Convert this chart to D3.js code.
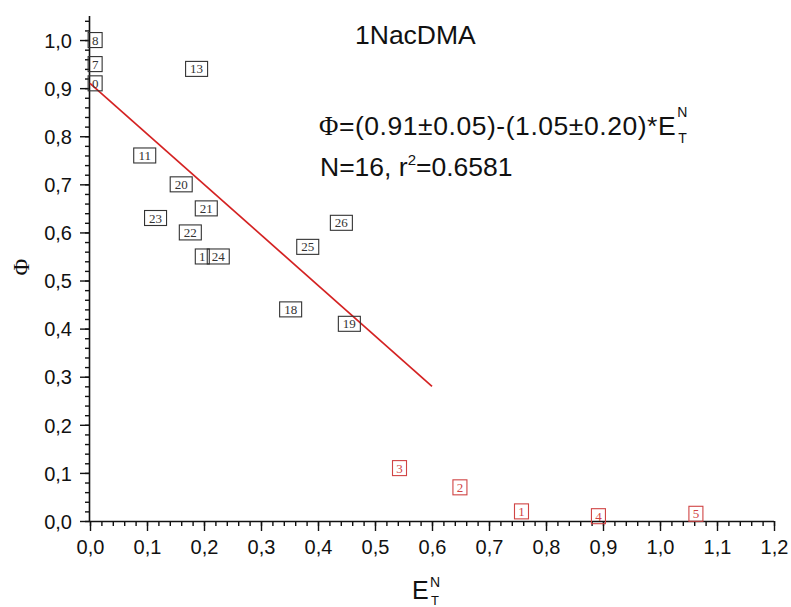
<!DOCTYPE html>
<html>
<head>
    <title>1NacDMA</title>
    <script src="https://d3js.org/d3.v7.min.js"></script>
    <style>
        body { margin: 0; background: #fff; }
        .tick text { font-family: "Liberation Sans", Arial, sans-serif; font-size: 20px; fill: #111; }
        .lbl { font-family: "Liberation Serif", "Times New Roman", serif; font-size: 13px; }
        .note { font-family: "Liberation Sans", Arial, sans-serif; fill: #111; }
    </style>
</head>
<body>
<div id="viz"></div>
<script>
// solvent points: label, E_T^N, quantum yield
const blackLabels = ['8', '7', '0', '13', '11', '20', '21', '23', '22', '1', '24', '25', '26', '18', '19'];
const blackX = [0.009, 0.009, 0.009, 0.187, 0.096, 0.160, 0.204, 0.115, 0.176, 0.197, 0.225, 0.382, 0.441, 0.352, 0.455];
const blackY = [1.00, 0.95, 0.91, 0.94, 0.76, 0.70, 0.65, 0.63, 0.60, 0.55, 0.55, 0.57, 0.62, 0.44, 0.41];

const redLabels = ['3', '2', '1', '4', '5'];
const redX = [0.543, 0.649, 0.757, 0.892, 1.063];
const redY = [0.11, 0.07, 0.02, 0.01, 0.015];

// linear fit
const fitA = 0.91, fitB = -1.05;
const fitRange = [0, 0.6];

const xTicks = d3.range(0, 1.21, 0.1);
const yTicks = d3.range(0, 1.01, 0.1);

const width = 791, height = 607;
const svg = d3.select('#viz').append('svg')
    .attr('width', width)
    .attr('height', height);

const x = d3.scaleLinear().domain([0, 1.2]).range([90, 774]);
const y = d3.scaleLinear().domain([0, 1.05]).range([521, 16]);

const fmt = d => d3.format('.1f')(d).replace('.', ',');

// minor ticks
const xMinor = d3.range(0, 1.201, 0.02);
const yMinor = d3.range(0, 1.041, 0.02);

svg.append('g').attr('transform', 'translate(0,521)')
    .call(d3.axisBottom(x).tickValues(xMinor).tickSize(5).tickFormat(''))
    .call(g => g.select('.domain').remove());
svg.append('g').attr('transform', 'translate(90,0)')
    .call(d3.axisLeft(y).tickValues(yMinor).tickSize(5).tickFormat(''))
    .call(g => g.select('.domain').remove());

const xAxis = svg.append('g').attr('transform', 'translate(0,521)')
    .call(d3.axisBottom(x).tickValues(xTicks).tickSize(10).tickPadding(9).tickFormat(fmt));
xAxis.select('.domain').attr('d', 'M90,0.5H774');

const yAxis = svg.append('g').attr('transform', 'translate(90,0)')
    .call(d3.axisLeft(y).tickValues(yTicks).tickSize(10).tickPadding(8).tickFormat(fmt));
yAxis.select('.domain').attr('d', 'M-0.5,521V16');
svg.selectAll('.domain').attr('stroke', '#111').attr('stroke-width', 1.6);
svg.selectAll('.tick line').attr('stroke', '#111').attr('stroke-width', 1.4);
yAxis.selectAll('.tick text').attr('dy', '0.36em');

// fit line
svg.append('line')
    .attr('x1', x(fitRange[0])).attr('y1', y(fitA + fitB * fitRange[0]))
    .attr('x2', x(fitRange[1])).attr('y2', y(fitA + fitB * fitRange[1]))
    .attr('stroke', '#d42222')
    .attr('stroke-width', 1.7);

function drawPoints(labels, xs, ys, color) {
    const g = svg.append('g');
    labels.forEach((t, i) => {
        const w = t.length > 1 ? 22 : 14;
        const cx = x(xs[i]), cy = y(ys[i]);
        g.append('rect')
            .attr('x', cx - w / 2).attr('y', cy - 7.5)
            .attr('width', w).attr('height', 15)
            .attr('fill', 'none')
            .attr('stroke', color)
            .attr('stroke-width', 1.1);
        g.append('text')
            .attr('class', 'lbl')
            .attr('x', cx).attr('y', cy + 4.5)
            .attr('text-anchor', 'middle')
            .attr('fill', color)
            .text(t);
    });
}
drawPoints(blackLabels, blackX, blackY, '#333');
drawPoints(redLabels, redX, redY, '#d04444');

// texts
const note = (px, py, size, txt) => svg.append('text').attr('class', 'note')
    .attr('x', px).attr('y', py).style('font-size', size + 'px').text(txt);

note(355, 44, 26.5, '1NacDMA');

const eq = svg.append('text').attr('class', 'note').attr('x', 319).attr('y', 135)
    .style('font-size', '26.5px').style('letter-spacing', '0.55px');
eq.append('tspan').attr('font-family', '"Liberation Serif", serif').text('Φ');
eq.append('tspan').text('=(0.91±0.05)-(1.05±0.20)*E');
const eqEnd = eq.node().getComputedTextLength();
note(319 + eqEnd + 1, 117, 14, 'N');
note(319 + eqEnd + 2, 143, 14, 'T');

const st = svg.append('text').attr('class', 'note').attr('x', 320).attr('y', 176)
    .style('font-size', '26.5px');
st.append('tspan').text('N=16, r');
st.append('tspan').style('font-size', '15px').attr('dy', -11).text('2');
st.append('tspan').attr('dy', 11).text('=0.6581');

// axis titles
svg.append('text')
    .attr('transform', 'translate(29,267) rotate(-90)')
    .attr('text-anchor', 'middle')
    .attr('font-family', '"Liberation Serif", serif')
    .attr('font-size', 23)
    .attr('fill', '#111')
    .text('Φ');

note(412, 599, 25, 'E');
note(430, 587, 14, 'N');
note(431, 605, 13, 'T');
</script>
</body>
</html>
